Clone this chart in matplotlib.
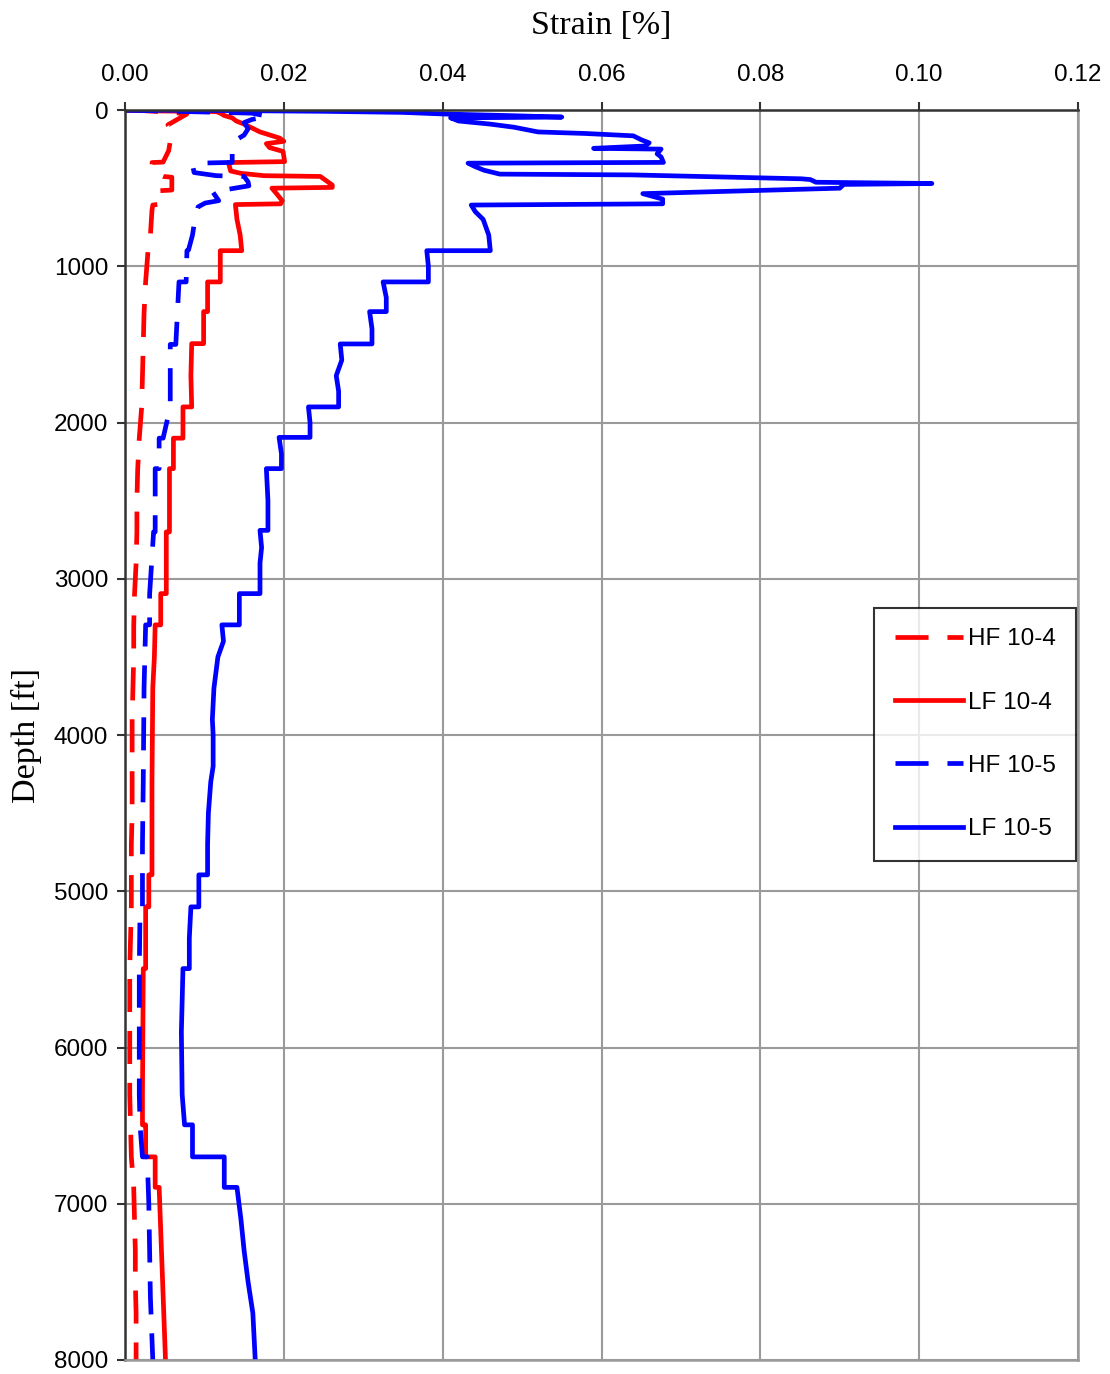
import numpy as np
import matplotlib
matplotlib.use("Agg")
import matplotlib.pyplot as plt
from matplotlib.ticker import FormatStrFormatter

### data: depth [ft] and strain [%] along each profile
hf104_depth = [0, 5, 15, 25, 60, 95, 130, 170, 200, 260, 333, 336, 400, 425, 430, 512, 516, 600, 608,
               640, 800, 900, 1100, 1300, 1500, 1700, 1900, 2100, 2300, 2500, 2700, 2900, 3100, 3300,
               3500, 3700, 3900, 4100, 4300, 4500, 4700, 4900, 5100, 5300, 5500, 5700, 5900, 6100,
               6300, 6500, 6700, 6900, 7100, 7300, 7500, 7700, 8000]
hf104_strain = [0.0, 0.003, 0.006, 0.0078, 0.0066, 0.0054, 0.0058, 0.0060, 0.0057, 0.0055, 0.0048, 0.0034,
                0.0036, 0.0048, 0.0059, 0.0059, 0.0044, 0.0047, 0.0035, 0.0034, 0.0032, 0.0029, 0.0026,
                0.0024, 0.0023, 0.0022, 0.0021, 0.0018, 0.0016, 0.0015, 0.0015, 0.0014, 0.0012, 0.0011,
                0.0011, 0.0010, 0.0009, 0.0009, 0.0009, 0.0009, 0.0008, 0.0008, 0.0008, 0.0007, 0.0006,
                0.0006, 0.0006, 0.0006, 0.0006, 0.0007, 0.0008, 0.0011, 0.0012, 0.0013, 0.0013, 0.0014,
                0.0014]

lf104_depth = [0, 5, 10, 20, 35, 50, 70, 90, 110, 140, 180, 200, 215, 240, 265, 330, 336, 350, 390,
               405, 420, 425, 480, 495, 500, 530, 580, 600, 605, 700, 800, 900, 900, 1100, 1100,
               1290, 1290, 1495, 1495, 1700, 1900, 1900, 2100, 2100, 2295, 2295, 2700, 2700, 3095,
               3095, 3295, 3295, 3500, 3700, 4300, 4500, 4895, 4895, 5100, 5100, 5495, 5495, 6300,
               6495, 6495, 6700, 6700, 6895, 6895, 8000]
lf104_strain = [0.0, 0.003, 0.0115, 0.012, 0.0125, 0.0135, 0.014, 0.015, 0.0158, 0.017, 0.0195, 0.0200,
                0.0178, 0.0182, 0.0199, 0.0201, 0.0130, 0.0131, 0.0133, 0.0146, 0.0175, 0.0246, 0.0261,
                0.0261, 0.0185, 0.0190, 0.0198, 0.0196, 0.0139, 0.0141, 0.0145, 0.0147, 0.0120,
                0.0120, 0.0104, 0.0104, 0.0099, 0.0099, 0.0084, 0.0083, 0.0084, 0.0073, 0.0073,
                0.0061, 0.0061, 0.0056, 0.0056, 0.0052, 0.0052, 0.0045, 0.0045, 0.0038, 0.0037,
                0.0035, 0.0034, 0.0034, 0.0034, 0.0030, 0.0030, 0.0026, 0.0026, 0.0023, 0.0022,
                0.0022, 0.0026, 0.0026, 0.0038, 0.0038, 0.0043, 0.0051]

hf105_depth = [0, 10, 20, 40, 60, 80, 120, 160, 200, 250, 335, 340, 350, 400, 420, 425, 460, 485, 512,
               520, 580, 595, 620, 700, 800, 895, 900, 1100, 1100, 1300, 1500, 1500, 1900, 2100,
               2100, 2295, 2295, 2700, 2700, 3100, 3295, 3295, 3700, 4300, 4700, 4900, 5100, 5100,
               5500, 5900, 6300, 6500, 6700, 6700, 7000, 7300, 7600, 8000]
hf105_strain = [0.0, 0.008, 0.016, 0.018, 0.016, 0.015, 0.0155, 0.0150, 0.0137, 0.0135, 0.0135, 0.0090,
                0.0085, 0.0087, 0.0115, 0.0150, 0.0155, 0.0156, 0.0124, 0.0110, 0.0118, 0.0101, 0.0092,
                0.0088, 0.0085, 0.0080, 0.0078, 0.0077, 0.0068, 0.0066, 0.0064, 0.0057, 0.0057,
                0.0048, 0.0043, 0.0043, 0.0038, 0.0038, 0.0036, 0.0031, 0.0031, 0.0026, 0.0024,
                0.0023, 0.0022, 0.0022, 0.0022, 0.0019, 0.0018, 0.0018, 0.0018, 0.0019, 0.0022,
                0.0028, 0.0030, 0.0031, 0.0032, 0.0035]

lf105_depth = [0, 3, 8, 15, 25, 35, 45, 50, 70, 90, 110, 140, 150, 165, 190, 210, 230, 245, 250, 280,
               300, 335, 340, 360, 385, 410, 415, 440, 445, 462, 470, 476, 500, 530, 535, 570, 600,
               608, 650, 700, 800, 900, 900, 1000, 1100, 1100, 1200, 1290, 1290, 1400, 1497, 1497,
               1600, 1700, 1800, 1900, 1900, 2000, 2095, 2095, 2200, 2295, 2295, 2500, 2690, 2690,
               2800, 2900, 3095, 3095, 3295, 3295, 3400, 3500, 3700, 3900, 4000, 4200, 4300, 4500,
               4700, 4895, 4895, 5100, 5100, 5300, 5495, 5495, 5700, 5900, 6300, 6495, 6495, 6700,
               6700, 6895, 6895, 7100, 7300, 7500, 7700, 8000]
lf105_strain = [0.0, 0.012, 0.025, 0.035, 0.040, 0.048, 0.055, 0.041, 0.042, 0.046, 0.049, 0.052, 0.058,
                0.064, 0.065, 0.066, 0.0655, 0.059, 0.0675, 0.067, 0.0675, 0.0678, 0.0432, 0.0440,
                0.0452, 0.0472, 0.0638, 0.0852, 0.0863, 0.0870, 0.1016, 0.0905, 0.0900, 0.0688,
                0.0652, 0.0677, 0.0677, 0.0436, 0.0441, 0.0451, 0.0458, 0.0460, 0.0380, 0.0382,
                0.0382, 0.0325, 0.0329, 0.0329, 0.0308, 0.0311, 0.0311, 0.0271, 0.0273, 0.0266,
                0.0269, 0.0269, 0.0231, 0.0233, 0.0233, 0.0194, 0.0197, 0.0197, 0.0178, 0.0180,
                0.0180, 0.0170, 0.0172, 0.0170, 0.0170, 0.0144, 0.0144, 0.0122, 0.0124, 0.0117,
                0.0112, 0.0110, 0.0111, 0.0111, 0.0108, 0.0105, 0.0104, 0.0104, 0.0093, 0.0093,
                0.0083, 0.0081, 0.0081, 0.0073, 0.0072, 0.0071, 0.0072, 0.0075, 0.0085, 0.0085,
                0.0125, 0.0125, 0.0141, 0.0146, 0.0150, 0.0155, 0.0161, 0.0164]

series_labels = ["HF 10-4", "LF 10-4", "HF 10-5", "LF 10-5"]

x_ticks = [0.0, 0.02, 0.04, 0.06, 0.08, 0.10, 0.12]
y_ticks = [0, 1000, 2000, 3000, 4000, 5000, 6000, 7000, 8000]


fig = plt.figure(figsize=(11.1, 13.74), dpi=100)
ax = fig.add_axes([0.1126, 0.0102, 0.8586, 0.9097])

dash = (0, (7, 4))
lw = 3.4
ax.plot(hf104_strain, hf104_depth, color="#ff0000", lw=lw, linestyle=dash, label=series_labels[0])
ax.plot(lf104_strain, lf104_depth, color="#ff0000", lw=lw, label=series_labels[1])
ax.plot(hf105_strain, hf105_depth, color="#0000ff", lw=lw, linestyle=dash, label=series_labels[2])
ax.plot(lf105_strain, lf105_depth, color="#0000ff", lw=lw, label=series_labels[3])

ax.set_xlim(0, 0.12)
ax.set_ylim(8000, 0)
ax.set_xticks(x_ticks)
ax.set_yticks(y_ticks)
ax.xaxis.set_major_formatter(FormatStrFormatter("%.2f"))
ax.xaxis.tick_top()
ax.xaxis.set_label_position("top")

ax.grid(True, color="#9a9a9a", lw=1.5)
ax.set_axisbelow(True)

for side in ["left", "top"]:
    ax.spines[side].set_color("#333333")
    ax.spines[side].set_linewidth(1.8)
for side in ["right", "bottom"]:
    ax.spines[side].set_color("#9a9a9a")
    ax.spines[side].set_linewidth(1.8)

tick_font = "Liberation Sans"
ax.tick_params(axis="both", direction="out", length=6, width=1.5, color="#333333",
               labelsize=17.5, pad=6)
ax.tick_params(axis="x", pad=11)
for lab in ax.get_xticklabels() + ax.get_yticklabels():
    lab.set_fontfamily(tick_font)

ax.set_xlabel("Strain [%]", fontfamily="Liberation Serif", fontsize=24.5, labelpad=22)
ax.set_ylabel("Depth [ft]", fontfamily="Liberation Serif", fontsize=24.5, labelpad=8.5)

leg = ax.legend(loc="upper right", bbox_to_anchor=(0.998, 0.602), frameon=True, fancybox=False,
                edgecolor="black", prop={"family": tick_font, "size": 17.5}, handlelength=2.8,
                handletextpad=0.2, labelspacing=1.7, borderpad=0.85, borderaxespad=0)
leg.get_frame().set_linewidth(1.5)

fig.savefig("out.png", dpi=100, facecolor="white")
